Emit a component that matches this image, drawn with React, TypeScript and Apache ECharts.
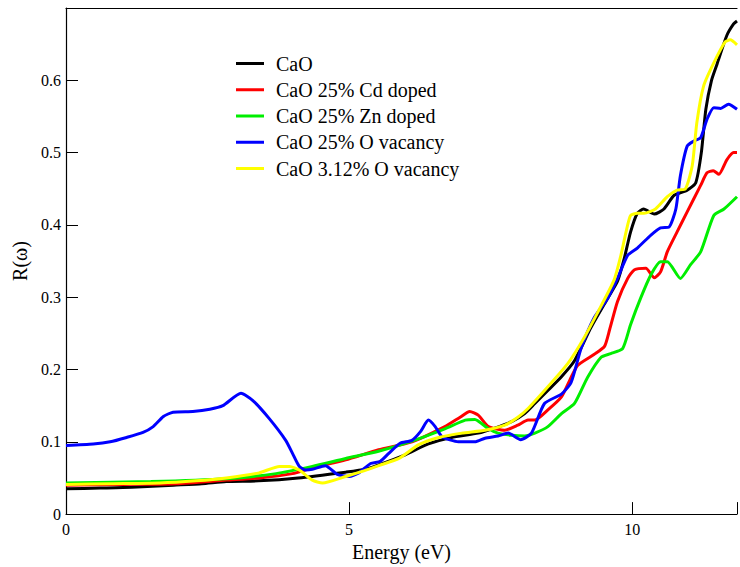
import React, { useEffect, useRef } from "react";
import * as echarts from "echarts";

const seriesNames = [
  "CaO",
  "CaO 25% Cd doped",
  "CaO 25% Zn doped",
  "CaO 25% O vacancy",
  "CaO 3.12% O vacancy",
];

const cao: number[][] = [
  [0, 0.035], [0.6, 0.036], [1.16, 0.037], [1.9, 0.04], [2.4, 0.042], [2.83, 0.045],
  [3.4, 0.046], [4.1, 0.05], [4.94, 0.058], [5.29, 0.062], [5.52, 0.068], [5.99, 0.082],
  [6.4, 0.097], [6.81, 0.106], [7.28, 0.112], [7.57, 0.119], [7.87, 0.128], [8.1, 0.139],
  [8.28, 0.153], [8.51, 0.171], [8.75, 0.19], [8.98, 0.212], [9.27, 0.258], [9.57, 0.299],
  [9.74, 0.322], [9.86, 0.354], [9.97, 0.39], [10.09, 0.416], [10.2, 0.422], [10.39, 0.415],
  [10.56, 0.422], [10.74, 0.441], [10.97, 0.448], [11.12, 0.458], [11.22, 0.5], [11.3, 0.56],
  [11.4, 0.6], [11.5, 0.623], [11.67, 0.662], [11.79, 0.678], [11.85, 0.682],
];

const cdDoped: number[][] = [
  [0, 0.04], [1.0, 0.041], [1.95, 0.042], [2.83, 0.047], [3.41, 0.05], [4.0, 0.056],
  [4.35, 0.064], [4.94, 0.075], [5.52, 0.089], [6.11, 0.1], [6.69, 0.121], [6.96, 0.134],
  [7.13, 0.142], [7.28, 0.137], [7.46, 0.121], [7.75, 0.116], [7.98, 0.123], [8.16, 0.13],
  [8.28, 0.13], [8.51, 0.144], [8.75, 0.162], [8.92, 0.189], [9.04, 0.206], [9.33, 0.221],
  [9.51, 0.232], [9.6, 0.255], [9.74, 0.294], [9.92, 0.326], [10.04, 0.338], [10.24, 0.34],
  [10.39, 0.327], [10.5, 0.335], [10.62, 0.363], [10.79, 0.39], [10.97, 0.418], [11.21, 0.455],
  [11.32, 0.472], [11.43, 0.475], [11.53, 0.47], [11.67, 0.49], [11.79, 0.5], [11.85, 0.5],
];

const znDoped: number[][] = [
  [0, 0.043], [1.5, 0.045], [2.83, 0.049], [3.71, 0.056], [4.35, 0.066], [4.94, 0.077],
  [5.52, 0.087], [6.11, 0.101], [6.69, 0.118], [7.05, 0.13], [7.22, 0.131], [7.46, 0.118],
  [7.63, 0.112], [7.87, 0.109], [8.1, 0.108], [8.28, 0.112], [8.51, 0.121], [8.75, 0.139],
  [8.98, 0.153], [9.21, 0.189], [9.45, 0.217], [9.62, 0.222], [9.83, 0.229], [9.97, 0.262],
  [10.15, 0.299], [10.33, 0.331], [10.5, 0.349], [10.62, 0.349], [10.85, 0.326], [11.03, 0.345],
  [11.21, 0.363], [11.44, 0.413], [11.62, 0.422], [11.85, 0.439],
];

const oVac25: number[][] = [
  [0, 0.095], [0.48, 0.097], [0.78, 0.1], [1.07, 0.106], [1.36, 0.113], [1.54, 0.121],
  [1.72, 0.135], [1.89, 0.141], [2.24, 0.142], [2.54, 0.145], [2.77, 0.15], [3.09, 0.167],
  [3.3, 0.157], [3.59, 0.132], [3.88, 0.102], [4.0, 0.084], [4.12, 0.066], [4.23, 0.061],
  [4.35, 0.062], [4.58, 0.067], [4.79, 0.055], [5.0, 0.052], [5.17, 0.057], [5.38, 0.07],
  [5.55, 0.073], [5.7, 0.084], [5.9, 0.098], [6.11, 0.102], [6.26, 0.114], [6.4, 0.13],
  [6.52, 0.121], [6.64, 0.107], [6.93, 0.1], [7.22, 0.1], [7.4, 0.105], [7.63, 0.108],
  [7.81, 0.112], [8.03, 0.103], [8.22, 0.112], [8.45, 0.153], [8.75, 0.166], [8.92, 0.182],
  [9.1, 0.23], [9.33, 0.272], [9.57, 0.299], [9.74, 0.326], [9.92, 0.358], [10.09, 0.368],
  [10.33, 0.386], [10.5, 0.396], [10.65, 0.397], [10.77, 0.422], [10.85, 0.468], [10.97, 0.509],
  [11.09, 0.516], [11.21, 0.521], [11.32, 0.546], [11.44, 0.562], [11.56, 0.561], [11.7, 0.567],
  [11.85, 0.56],
];

const oVac312: number[][] = [
  [0, 0.041], [0.8, 0.042], [1.66, 0.043], [2.3, 0.046], [2.83, 0.05], [3.41, 0.057],
  [3.77, 0.066], [3.95, 0.066], [4.12, 0.061], [4.35, 0.047], [4.53, 0.043], [4.94, 0.052],
  [5.23, 0.059], [5.52, 0.067], [5.88, 0.077], [6.23, 0.096], [6.58, 0.106], [6.99, 0.112],
  [7.4, 0.116], [7.75, 0.123], [7.98, 0.134], [8.16, 0.146], [8.51, 0.176], [8.86, 0.208],
  [9.15, 0.244], [9.45, 0.288], [9.68, 0.324], [9.8, 0.358], [9.89, 0.39], [9.97, 0.413],
  [10.09, 0.416], [10.21, 0.416], [10.41, 0.422], [10.62, 0.439], [10.79, 0.448], [10.94, 0.45],
  [11.06, 0.482], [11.14, 0.541], [11.26, 0.592], [11.44, 0.624], [11.64, 0.653], [11.73, 0.656],
  [11.85, 0.649],
];

const seriesData = [cao, cdDoped, znDoped, oVac25, oVac312];
const seriesColors = ["#000000", "#ff0000", "#00ee00", "#0000ff", "#ffff00"];

const xTicks = [0, 5, 10];
const yTickLabels = ["0", "0.1", "0.2", "0.3", "0.4", "0.5", "0.6"];

const FONT = "Liberation Serif";

export default function App() {
  const ref = useRef<HTMLDivElement>(null);
  useEffect(() => {
    if (!ref.current) return;
    const chart = echarts.init(ref.current, undefined, { renderer: "svg" });
    chart.setOption({
      animation: false,
      backgroundColor: "#ffffff",
      textStyle: { fontFamily: FONT },
      grid: { left: 66, right: 0, top: 8, bottom: 49, containLabel: false },
      legend: {
        orient: "vertical",
        left: 231,
        top: 48.5,
        icon: "rect",
        itemWidth: 28,
        itemHeight: 3,
        itemGap: 6.25,
        data: seriesNames,
        textStyle: {
          fontFamily: FONT,
          fontSize: 20,
          color: "#000",
          lineHeight: 20,
          padding: [0, 0, 0, 7],
        },
      },
      xAxis: [
        {
          type: "value",
          min: 0,
          max: 11.85,
          interval: 5,
          name: "Energy (eV)",
          nameLocation: "middle",
          nameGap: 22,
          nameTextStyle: { fontFamily: FONT, fontSize: 20, color: "#000" },
          axisLine: { show: true, onZero: false, lineStyle: { color: "#000", width: 1.2 } },
          axisTick: { show: true, inside: true, length: 12, lineStyle: { color: "#000" } },
          axisLabel: {
            fontFamily: FONT,
            fontSize: 16,
            color: "#000",
            margin: 7,
            formatter: (v: number) => (xTicks.includes(v) ? String(v) : ""),
          },
          splitLine: { show: false },
        },
        {
          type: "value",
          position: "top",
          min: 0,
          max: 11.85,
          axisLine: { show: true, onZero: false, lineStyle: { color: "#000", width: 1.2 } },
          axisTick: { show: false },
          axisLabel: { show: false },
          splitLine: { show: false },
        },
      ],
      yAxis: {
        type: "value",
        min: 0,
        max: 0.7,
        interval: 0.1,
        name: "R(ω)",
        nameLocation: "middle",
        nameGap: 36,
        nameTextStyle: { fontFamily: FONT, fontSize: 20, color: "#000" },
        axisLine: { show: true, onZero: false, lineStyle: { color: "#000", width: 1.2 } },
        axisTick: { show: true, inside: true, length: 12, lineStyle: { color: "#000" } },
        axisLabel: {
          fontFamily: FONT,
          fontSize: 16,
          color: "#000",
          margin: 5,
          formatter: (v: number) => {
            const i = Math.round(v * 10);
            return i >= 0 && i < yTickLabels.length ? yTickLabels[i] : "";
          },
        },
        splitLine: { show: false },
      },
      series: seriesNames.map((name, i) => ({
        name,
        type: "line",
        xAxisIndex: 0,
        data: seriesData[i],
        smooth: 0.2,
        symbol: "none",
        color: seriesColors[i],
        lineStyle: { color: seriesColors[i], width: 3 },
        z: 2 + i,
      })),
    });
    return () => chart.dispose();
  }, []);
  return (
    <div
      ref={ref}
      style={{ position: "fixed", left: 0, top: 0, width: 740, height: 567 }}
    />
  );
}
